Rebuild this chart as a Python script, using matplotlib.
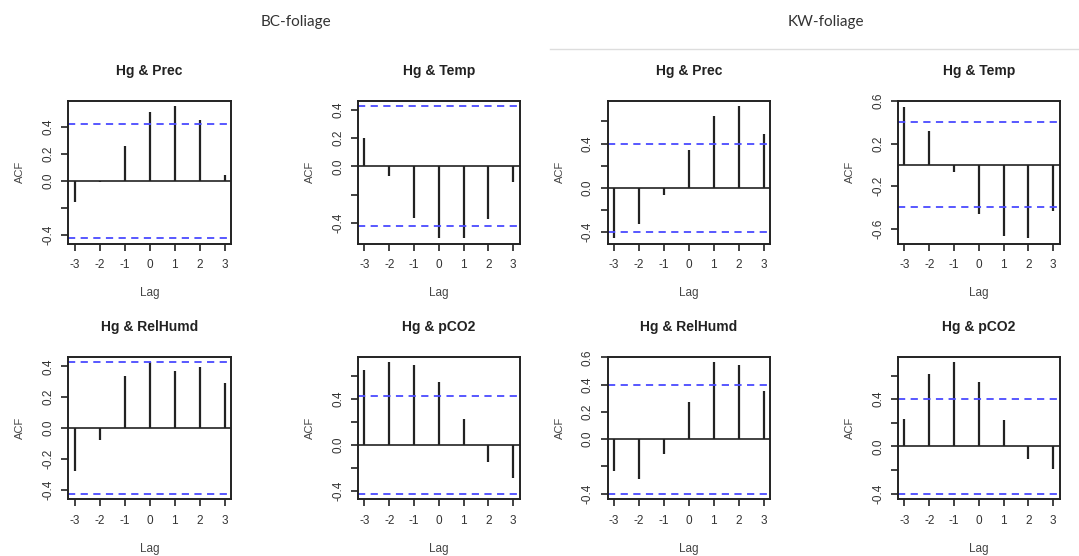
import matplotlib
matplotlib.use("Agg")
import matplotlib.pyplot as plt

plt.rcParams['font.family'] = ['Liberation Sans', 'DejaVu Sans']

### Data
lags = [-3, -2, -1, 0, 1, 2, 3]
bcPrec = [-0.16, -0.005, 0.26, 0.51, 0.555, 0.45, 0.045]
bcTemp = [0.20, -0.066, -0.37, -0.51, -0.505, -0.376, -0.11]
bcRelHumd = [-0.28, -0.076, 0.335, 0.426, 0.367, 0.396, 0.292]
bcPco2 = [0.652, 0.72, 0.70, 0.545, 0.223, -0.15, -0.29]
kwPrec = [-0.454, -0.322, -0.066, 0.343, 0.65, 0.737, 0.49]
kwTemp = [0.54, 0.316, -0.07, -0.46, -0.67, -0.69, -0.43]
kwRelHumd = [-0.236, -0.29, -0.105, 0.272, 0.564, 0.542, 0.35]
kwPco2 = [0.234, 0.61, 0.713, 0.55, 0.223, -0.104, -0.19]
bcConf = 0.426
kwConf = 0.40
groupNames = ["BC-foliage", "KW-foliage"]

### y ticks as R drew them (labels it dropped are left empty)
yTicksBCPrec = [-0.4, -0.2, 0.0, 0.2, 0.4]
yLabelsBCPrec = [-0.4, 0.0, 0.2, 0.4]
yTicksBCTemp = [-0.4, -0.2, 0.0, 0.2, 0.4]
yLabelsBCTemp = [-0.4, 0.0, 0.2, 0.4]
yTicksKWPrec = [-0.4, -0.2, 0.0, 0.2, 0.4, 0.6]
yLabelsKWPrec = [-0.4, 0.0, 0.4]
yTicksKWTemp = [-0.6, -0.2, 0.2, 0.6]
yLabelsKWTemp = [-0.6, -0.2, 0.2, 0.6]
yTicksBCRelHumd = [-0.4, -0.2, 0.0, 0.2, 0.4]
yLabelsBCRelHumd = [-0.4, -0.2, 0.0, 0.2, 0.4]
yTicksBCPco2 = [-0.4, -0.2, 0.0, 0.2, 0.4, 0.6]
yLabelsBCPco2 = [-0.4, 0.0, 0.4]
yTicksKWRelHumd = [-0.4, -0.2, 0.0, 0.2, 0.4, 0.6]
yLabelsKWRelHumd = [-0.4, 0.0, 0.2, 0.4, 0.6]
yTicksKWPco2 = [-0.4, -0.2, 0.0, 0.2, 0.4, 0.6]
yLabelsKWPco2 = [-0.4, 0.0, 0.4]

W, H = 1079, 556
fig = plt.figure(figsize=(W/100, H/100), dpi=100)

colLeft = [68, 358, 607.5, 898]
colRight = [231, 519.5, 770, 1059.5]
rowTop = [101, 357]
rowBottom = [243.5, 499]

def acfPanel(row, col, title, values, conf, yTicks, yLabels):
    left, right = colLeft[col], colRight[col]
    top, bottom = rowTop[row], rowBottom[row]
    ax = fig.add_axes([left/W, 1 - bottom/H, (right-left)/W, (bottom-top)/H])
    ### R style limits: data and conf lines, extended 4%
    yMin = min(min(values), -conf)
    yMax = max(max(values), conf)
    yPad = 0.04*(yMax - yMin)
    ax.set_ylim(yMin - yPad, yMax + yPad)
    ax.set_xlim(-3.26, 3.26)
    ax.vlines(lags, 0, values, color='#222222', linewidth=1.6)
    ax.axhline(0, color='#222222', linewidth=1.2)
    ax.axhline(conf, color='#4a4aff', linewidth=1.3, ls=(0, (4, 3)))
    ax.axhline(-conf, color='#4a4aff', linewidth=1.3, ls=(0, (4, 3)))
    ax.set_xticks(lags)
    ax.set_xticklabels([str(l) for l in lags])
    ax.set_yticks(yTicks)
    ax.set_yticklabels(['%.1f' % t if t in yLabels else '' for t in yTicks],
                       rotation=90, va='center')
    ax.tick_params(axis='both', direction='out', length=5, width=1.2,
                   labelsize=8.5, colors='#222222', labelcolor='#333333')
    ax.tick_params(axis='x', pad=6.5)
    ax.tick_params(axis='y', pad=5)
    for s in ax.spines.values():
        s.set_linewidth(1.4)
        s.set_color('#222222')
    ax.set_title(title, fontsize=10, fontweight='bold', pad=19, color='#222222')
    ax.set_xlabel('Lag', fontsize=8.5, labelpad=11.5, color='#444444')
    ax.set_ylabel('ACF', fontsize=8, labelpad=12, color='#444444')
    return ax

acfPanel(0, 0, "Hg & Prec", bcPrec, bcConf, yTicksBCPrec, yLabelsBCPrec)
acfPanel(0, 1, "Hg & Temp", bcTemp, bcConf, yTicksBCTemp, yLabelsBCTemp)
acfPanel(0, 2, "Hg & Prec", kwPrec, kwConf, yTicksKWPrec, yLabelsKWPrec)
acfPanel(0, 3, "Hg & Temp", kwTemp, kwConf, yTicksKWTemp, yLabelsKWTemp)
acfPanel(1, 0, "Hg & RelHumd", bcRelHumd, bcConf, yTicksBCRelHumd, yLabelsBCRelHumd)
acfPanel(1, 1, "Hg & pCO2", bcPco2, bcConf, yTicksBCPco2, yLabelsBCPco2)
acfPanel(1, 2, "Hg & RelHumd", kwRelHumd, kwConf, yTicksKWRelHumd, yLabelsKWRelHumd)
acfPanel(1, 3, "Hg & pCO2", kwPco2, kwConf, yTicksKWPco2, yLabelsKWPco2)

### Group headers and the thin rule under KW
fig.text(296/W, 1 - 22/H, groupNames[0], fontsize=11, family='Lato',
         ha='center', va='center', color='#333333')
fig.text(826/W, 1 - 22/H, groupNames[1], fontsize=11, family='Lato',
         ha='center', va='center', color='#333333')
fig.add_artist(plt.Line2D([550/W, 1.0], [1 - 48.5/H, 1 - 48.5/H],
                          color='#dddddd', linewidth=1.0))

plt.savefig('out.png', dpi=100)
plt.close()
